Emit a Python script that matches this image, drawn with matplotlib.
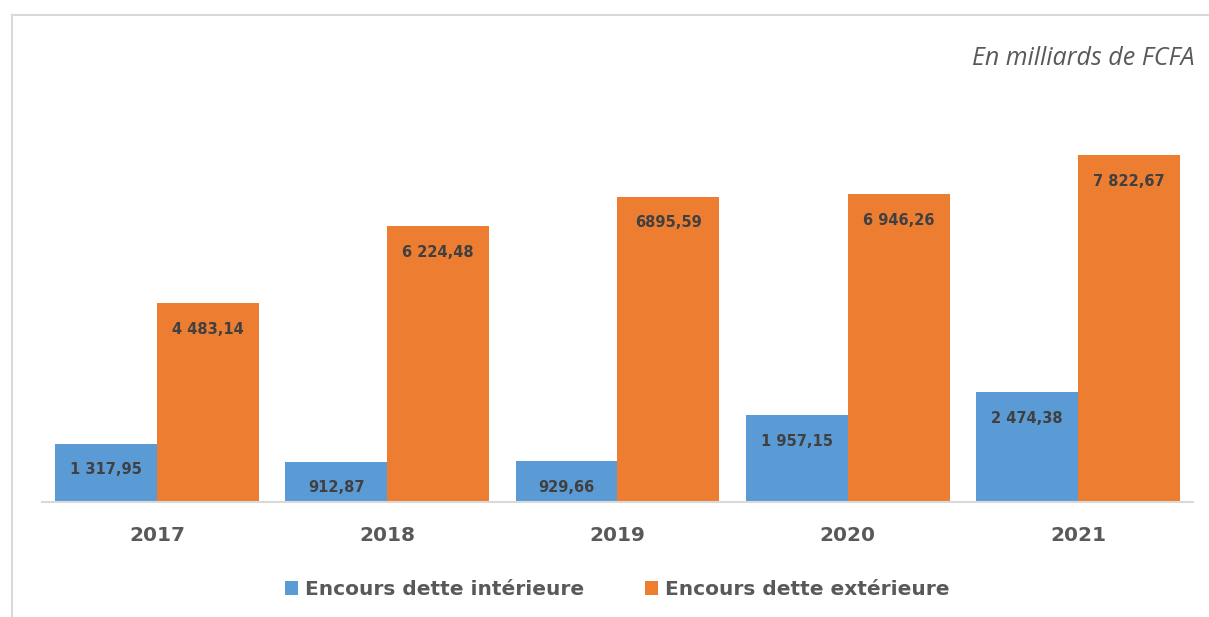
import numpy as np
import matplotlib.pyplot as plt
from matplotlib.lines import Line2D
from matplotlib.font_manager import FontProperties

annees = ["2017", "2018", "2019", "2020", "2021"]
dette_interieure = [1317.95, 912.87, 929.66, 1957.15, 2474.38]
dette_exterieure = [4483.14, 6224.48, 6895.59, 6946.26, 7822.67]
labels_interieure = ["1 317,95", "912,87", "929,66", "1 957,15", "2 474,38"]
labels_exterieure = ["4 483,14", "6 224,48", "6895,59", "6 946,26", "7 822,67"]

BLEU = "#5B9BD5"
ORANGE = "#ED7D31"
GRIS = "#595959"
POLICE = "DejaVu Sans"

fig = plt.figure(figsize=(12.09, 6.17), dpi=100)
ax = fig.add_axes([0.0347, 0.1864, 0.9521, 0.718])

x = np.arange(len(annees))
w = 0.443
b1 = ax.bar(x - w / 2, dette_interieure, w, color=BLEU, label="Encours dette intérieure")
b2 = ax.bar(x + w / 2, dette_exterieure, w, color=ORANGE, label="Encours dette extérieure")

for rects, labs in ((b1, labels_interieure), (b2, labels_exterieure)):
    for r, lab in zip(rects, labs):
        ax.annotate(lab, (r.get_x() + r.get_width() / 2, r.get_height()),
                    xytext=(0, -19), textcoords="offset points",
                    ha="center", va="center", fontsize=10.5, fontweight="bold",
                    family=POLICE, color="#404040")

ax.set_xlim(-0.5, 4.5)
ax.set_ylim(0, 10000)
ax.set_xticks(x)
ax.set_xticklabels(annees, fontsize=14.5, fontweight="bold", color=GRIS, family=POLICE)
ax.tick_params(axis="x", length=0, pad=17)
ax.set_yticks([])
for s in ("top", "right", "left"):
    ax.spines[s].set_visible(False)
ax.spines["bottom"].set_color("#D9D9D9")
ax.spines["bottom"].set_linewidth(1.5)

leg = ax.legend(loc="upper center", bbox_to_anchor=(0.5, -0.135), ncol=2,
                frameon=False, handlelength=0.65, handleheight=0.65,
                handletextpad=0.35, columnspacing=3.0,
                prop=FontProperties(family=POLICE, size=14.5, weight="bold"))
for t in leg.get_texts():
    t.set_color(GRIS)

fig.text(0.988, 0.905, "En milliards de FCFA", ha="right", va="center",
         fontsize=18, style="italic", color=GRIS, family="Open Sans")

# cadre gris clair
fig.add_artist(Line2D([12 / 1209, 1], [1 - 15 / 617] * 2, color="#D9D9D9", lw=1.5))
fig.add_artist(Line2D([12 / 1209] * 2, [0, 1 - 15 / 617], color="#D9D9D9", lw=1.5))

fig.savefig("out.png", dpi=100)
